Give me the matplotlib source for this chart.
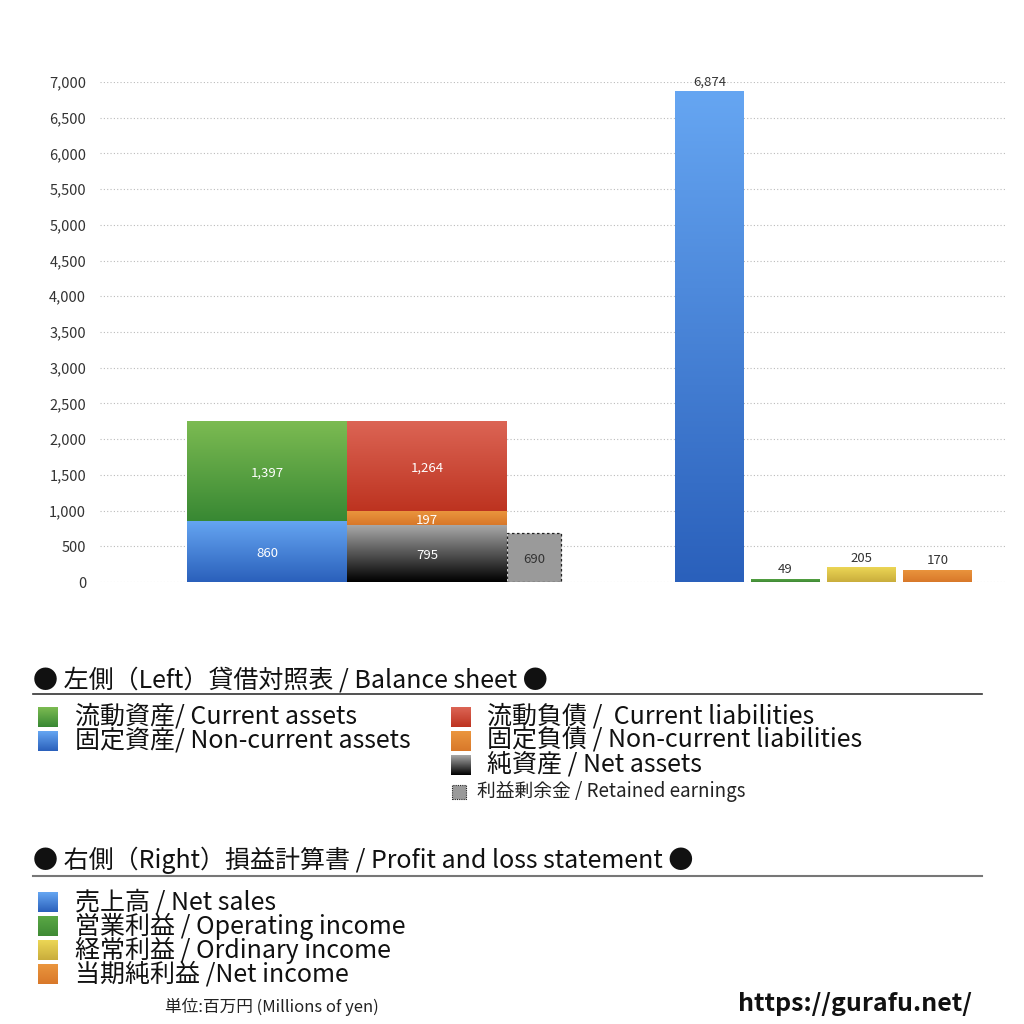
import matplotlib
matplotlib.use("Agg")
import matplotlib.pyplot as plt
import numpy as np
from matplotlib.colors import LinearSegmentedColormap
from matplotlib.patches import Rectangle

plt.rcParams['font.family'] = ['Noto Sans CJK JP', 'DejaVu Sans']

# balance sheet (left) values, millions of yen
assets_current = 1397
assets_noncurrent = 860
liab_current = 1264
liab_noncurrent = 197
net_assets = 795
retained_earnings = 690

# profit and loss (right)
pl_labels = ['売上高 / Net sales', '営業利益 / Operating income',
             '経常利益 / Ordinary income', '当期純利益 /Net income']
pl_values = [6874, 49, 205, 170]

yticks = np.arange(0, 7001, 500)

# gradient colours (top, bottom)
C_GREEN = ('#7cbb52', '#388833')
C_BLUE = ('#66a6f2', '#2a60bb')
C_RED = ('#dc6555', '#bd3320')
C_ORANGE = ('#eb963e', '#d8782a')
C_BLACK = ('#a8a8a8', '#000000')
C_YELLOW = ('#ecd655', '#c9ad3c')
C_OPGREEN = ('#5aa845', '#3f8a35')


def grad_fill(ax, patch, cols):
    x0, y0 = patch.get_x(), patch.get_y()
    w, h = patch.get_width(), patch.get_height()
    cmap = LinearSegmentedColormap.from_list('g', [cols[1], cols[0]])
    img = ax.imshow(np.linspace(0, 1, 256).reshape(-1, 1), cmap=cmap,
                    origin='lower', aspect='auto',
                    extent=(x0, x0 + w, y0, y0 + h), zorder=patch.get_zorder())
    img.set_clip_path(patch)
    patch.set_facecolor('none')


fig = plt.figure(figsize=(10.24, 10.24), dpi=100)
ax = fig.add_axes([100 / 1024, 1 - 582 / 1024, 905 / 1024, 500 / 1024])

# left stacked bars
xa, xl, xr = 167, 327, 434
bw, rw = 160, 54
bars = []
b = ax.bar(xa, assets_noncurrent, bw, color='none', zorder=3)[0]
bars.append((b, C_BLUE, assets_noncurrent, 'white'))
b = ax.bar(xa, assets_current, bw, bottom=assets_noncurrent, color='none', zorder=3)[0]
bars.append((b, C_GREEN, assets_current, 'white'))
b = ax.bar(xl, net_assets, bw, color='none', zorder=3)[0]
bars.append((b, C_BLACK, net_assets, 'white'))
b = ax.bar(xl, liab_noncurrent, bw, bottom=net_assets, color='none', zorder=3)[0]
bars.append((b, C_ORANGE, liab_noncurrent, 'white'))
b = ax.bar(xl, liab_current, bw, bottom=net_assets + liab_noncurrent, color='none', zorder=3)[0]
bars.append((b, C_RED, liab_current, 'white'))

for p, cols, v, tc in bars:
    grad_fill(ax, p, cols)
    ax.text(p.get_x() + p.get_width() / 2, p.get_y() + p.get_height() / 2 - 30,
            f'{v:,}', ha='center', va='center', color=tc, fontsize=9.5, zorder=5)

re_bar = ax.bar(xr, retained_earnings, rw, color='#9a9a9a', edgecolor='#222222',
                linestyle=(0, (2, 2)), linewidth=0.9, zorder=3)[0]
ax.text(xr, retained_earnings / 2 - 30, f'{retained_earnings:,}', ha='center',
        va='center', color='#333333', fontsize=9.5, zorder=5)

# right bars
pl_x = [609.5, 685.5, 761.5, 837.5]
pl_cols = [C_BLUE, C_OPGREEN, C_YELLOW, C_ORANGE]
for x, v, cols in zip(pl_x, pl_values, pl_cols):
    p = ax.bar(x, v, 69, color='none', zorder=3)[0]
    grad_fill(ax, p, cols)
    ax.text(x, v + 40, f'{v:,}', ha='center', va='bottom', color='#333333',
            fontsize=9.5, zorder=5, clip_on=False)

ax.set_xlim(0, 905)
ax.set_ylim(0, 7000)
ax.set_yticks(yticks)
ax.set_yticklabels([f'{t:,}' for t in yticks], fontsize=10.5, color='#333333')
ax.tick_params(axis='y', length=0, pad=10)
ax.set_xticks([])
for s in ax.spines.values():
    s.set_visible(False)
ax.grid(axis='y', color='#bbbbbb', linestyle=(0, (1, 2)), linewidth=0.8, zorder=0)
ax.set_axisbelow(True)


# legend section drawn in figure pixels
def fy(py):
    return 1 - py / 1024


def swatch(px, py, cols, dashed=False, size=20):
    if dashed:
        fig.patches.append(Rectangle((px / 1024, fy(py + size / 2)), size / 1024, size / 1024,
                                     transform=fig.transFigure, facecolor='#9a9a9a',
                                     edgecolor='#222222', linestyle=(0, (1, 1)), linewidth=0.8))
        return
    sax = fig.add_axes([px / 1024, fy(py + size / 2), size / 1024, size / 1024])
    cmap = LinearSegmentedColormap.from_list('g', [cols[1], cols[0]])
    sax.imshow(np.linspace(0, 1, 64).reshape(-1, 1), cmap=cmap, origin='lower', aspect='auto')
    sax.axis('off')


fs = 18
fig.text(33 / 1024, fy(680), '● 左側（Left）貸借対照表 / Balance sheet ●', fontsize=fs,
         va='center', ha='left', color='#111111')
fig.add_artist(plt.Line2D([33 / 1024, 982 / 1024], [fy(694), fy(694)], color='#333333', lw=1.2))

left_items = [('流動資産/ Current assets', C_GREEN), ('固定資産/ Non-current assets', C_BLUE)]
for i, (lab, cols) in enumerate(left_items):
    y = 717 + 24 * i
    swatch(38, y, cols)
    fig.text(75 / 1024, fy(y), lab, fontsize=fs, va='center', ha='left', color='#111111')

right_items = [('流動負債 /  Current liabilities', C_RED),
               ('固定負債 / Non-current liabilities', C_ORANGE),
               ('純資産 / Net assets', C_BLACK)]
for i, (lab, cols) in enumerate(right_items):
    y = 717 + 24 * i
    swatch(451, y, cols)
    fig.text(487 / 1024, fy(y), lab, fontsize=fs, va='center', ha='left', color='#111111')

swatch(452, 792, None, dashed=True, size=14)
fig.text(477 / 1024, fy(792), '利益剰余金 / Retained earnings', fontsize=13.5,
         va='center', ha='left', color='#222222')

fig.text(33 / 1024, fy(860), '● 右側（Right）損益計算書 / Profit and loss statement ●', fontsize=fs,
         va='center', ha='left', color='#111111')
fig.add_artist(plt.Line2D([33 / 1024, 982 / 1024], [fy(876), fy(876)], color='#777777', lw=1.5))

for i, (lab, cols) in enumerate(zip(pl_labels, pl_cols)):
    y = 902 + 24 * i
    swatch(38, y, cols)
    fig.text(75 / 1024, fy(y), lab, fontsize=fs, va='center', ha='left', color='#111111')

fig.text(165 / 1024, fy(1007), '単位:百万円 (Millions of yen)', fontsize=12,
         va='center', ha='left', color='#222222')
fig.text(972 / 1024, fy(1004), 'https://gurafu.net/', fontsize=18, fontweight='bold',
         va='center', ha='right', color='#111111')

fig.savefig('out.png', dpi=100, facecolor='white')
